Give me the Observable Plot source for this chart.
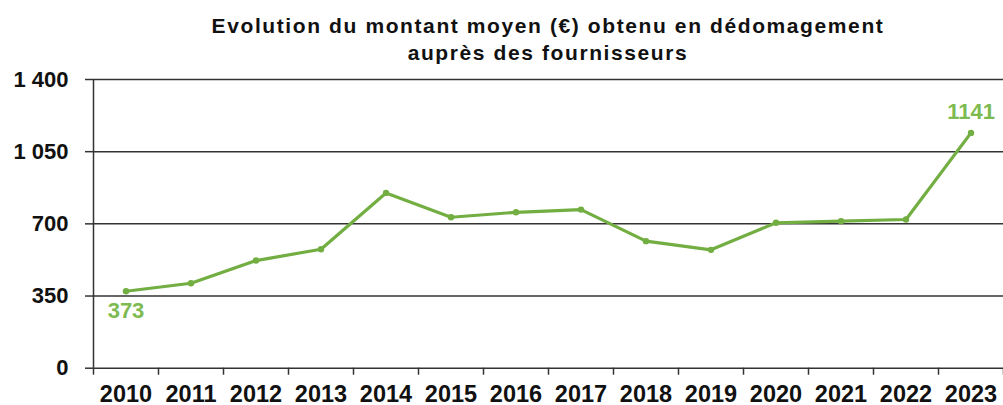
<!DOCTYPE html>
<html><head><meta charset="utf-8">
<script src="https://cdn.jsdelivr.net/npm/d3@7"></script>
<script src="https://cdn.jsdelivr.net/npm/@observablehq/plot@0.6"></script>
<style>
body{margin:0;background:#fff;width:1003px;height:405px;overflow:hidden;font-family:"Liberation Sans",Arial,sans-serif}
#title{box-sizing:border-box;height:70px;padding:12px 0 0 93px;width:1003px;text-align:center;font-weight:bold;font-size:21px;line-height:27px;letter-spacing:1.6px;color:#111}
</style></head><body>
<div id="title">Evolution du montant moyen (€) obtenu en dédomagement<br>auprès des fournisseurs</div>
<div id="chart"></div>
<script>
const years = ["2010","2011","2012","2013","2014","2015","2016","2017","2018","2019","2020","2021","2022","2023"];
const values = [373,412,522,577,850,732,756,769,616,574,705,713,721,1141];
const yTicks = [0,350,700,1050,1400];

const data = years.map((year, i) => ({i, year, value: values[i]}));
const first = [data[0]];
const last = [data[data.length - 1]];
const boundaries = d3.range(-0.5, years.length, 1);
const centers = years.map((_, i) => i);
const fmt = d3.formatLocale({thousands: " ", grouping: [3], decimal: ","}).format(",");

const green = "#72ae42";
const labelGreen = "#7dba4f";
const gridColor = "#333";

const chart = Plot.plot({
  width: 1003,
  height: 335,
  marginLeft: 93,
  marginRight: 0,
  marginTop: 9,
  marginBottom: 37.3,
  style: {fontFamily: '"Liberation Sans", Arial, sans-serif', color: "#111", background: "#fff", overflow: "visible"},
  x: {type: "linear", domain: [-0.5, years.length - 0.5], label: null},
  y: {domain: [0, 1400], label: null},
  marks: [
    Plot.ruleY(yTicks, {stroke: gridColor, strokeWidth: 1.5}),
    Plot.ruleX([-0.5], {stroke: gridColor, strokeWidth: 1.5}),
    Plot.axisX(boundaries, {tickSize: 7, tickFormat: () => "", stroke: gridColor, strokeWidth: 1.5, label: null}),
    Plot.axisX(centers, {tickSize: 0, tickPadding: 17, tickFormat: i => years[i], fontSize: 23.5, fontWeight: "bold", label: null}),
    Plot.axisY(yTicks, {tickSize: 8, tickPadding: 17, tickFormat: fmt, fontSize: 22, fontWeight: "bold", stroke: gridColor, strokeWidth: 1.5, label: null}),
    Plot.line(data, {x: "i", y: "value", stroke: green, strokeWidth: 3.2}),
    Plot.dot(data, {x: "i", y: "value", r: 3.2, fill: green}),
    Plot.text(first, {x: "i", y: "value", text: d => String(d.value), dy: 20, fontSize: 22, fontWeight: "bold", fill: labelGreen}),
    Plot.text(last, {x: "i", y: "value", text: d => String(d.value), dy: -21, fontSize: 22, fontWeight: "bold", fill: labelGreen})
  ]
});
document.getElementById("chart").appendChild(chart);
</script>
</body></html>
